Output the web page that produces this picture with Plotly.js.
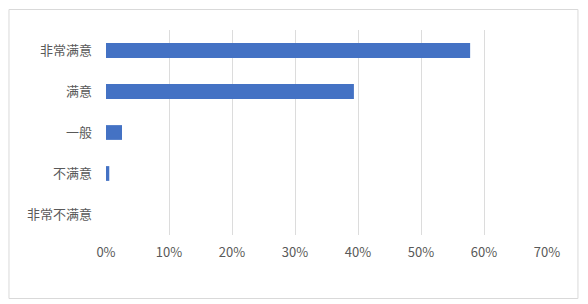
<!DOCTYPE html>
<html>
<head>
<meta charset="utf-8">
<script src="https://cdn.plot.ly/plotly-3.0.1.min.js"></script>
<style>
html,body{margin:0;padding:0;background:#fff;}
#chart{width:588px;height:304px;}
</style>
</head>
<body>
<div id="chart"></div>
<script>
const categories = ['非常满意', '满意', '一般', '不满意', '非常不满意'];
const shares = [0.578, 0.3935, 0.0254, 0.0052, 0];
const tickValues = [0, 0.1, 0.2, 0.3, 0.4, 0.5, 0.6, 0.7];
const tickLabels = ['0%', '10%', '20%', '30%', '40%', '50%', '60%', '70%'];

const W = 588, H = 304;
const plotL = 105.7, plotR = 547.5, plotT = 30, plotB = 235;
const pw = plotR - plotL, ph = plotB - plotT;
const px = x => (x - plotL) / pw;
const py = y => (plotB - y) / ph;

const font = {family: '"Noto Sans CJK SC", "Noto Sans", sans-serif', size: 13, color: '#595959'};

Plotly.newPlot('chart', [{
  type: 'bar',
  orientation: 'h',
  y: categories,
  x: shares,
  width: 0.36,
  marker: {color: '#4472C4'},
  hoverinfo: 'none'
}], {
  width: W, height: H,
  margin: {l: plotL, r: W - plotR, t: plotT, b: H - plotB, pad: 0},
  paper_bgcolor: '#ffffff',
  plot_bgcolor: '#ffffff',
  font: font,
  showlegend: false,
  xaxis: {
    range: [0, 0.7],
    tickvals: tickValues,
    ticktext: tickLabels,
    showgrid: true,
    gridcolor: '#dcdcdc',
    gridwidth: 1,
    zeroline: false,
    showline: false,
    ticks: '',
    ticklabelstandoff: 8,
    tickfont: font,
    fixedrange: true
  },
  yaxis: {
    type: 'category',
    categoryorder: 'array',
    categoryarray: categories,
    autorange: 'reversed',
    showgrid: false,
    zeroline: false,
    showline: false,
    ticks: '',
    ticklabelstandoff: 13,
    tickfont: font,
    fixedrange: true
  },
  shapes: [{
    type: 'rect', xref: 'paper', yref: 'paper',
    x0: px(8.5), x1: px(578.5), y0: py(298.5), y1: py(9.5),
    line: {color: '#d9d9d9', width: 1},
    fillcolor: 'rgba(0,0,0,0)',
    layer: 'below'
  }]
}, {displayModeBar: false, staticPlot: true});
</script>
</body>
</html>
